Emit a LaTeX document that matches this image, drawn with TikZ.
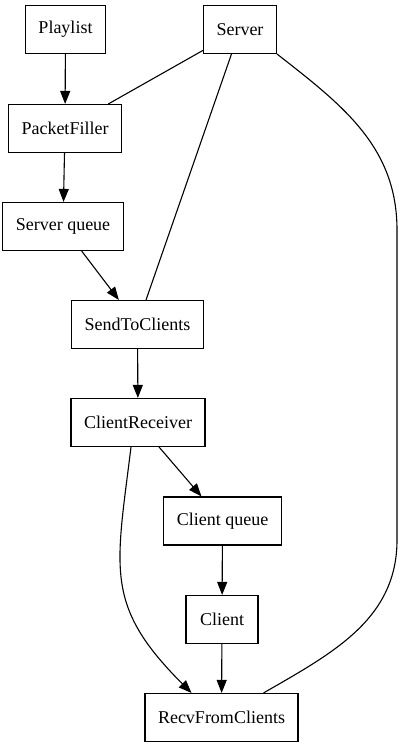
\documentclass[tikz,border=0pt]{standalone}
\usepackage{fontspec}
\setmainfont{Liberation Serif}
\usetikzlibrary{arrows.meta}

\begin{document}
\begin{tikzpicture}[x=1pt, y=1pt,
    box/.style={draw, line width=1.1pt, font=\fontsize{18}{20}\selectfont,
                minimum width=72pt, minimum height=48pt, inner xsep=13pt},
    flow/.style={line width=1.1pt, -{Triangle[length=13pt,width=10pt]}},
    link/.style={line width=1.1pt}]
            \useasboundingbox (0,0) rectangle (401,750);

            \node[box] (playlist) at (65.5, 720.5) {Playlist};
            \node[box] (server) at (240, 720.5) {Server};
            \node[box] (filler) at (65, 621.5) {PacketFiller};
            \node[box] (squeue) at (63, 523.5) {Server queue};
            \node[box] (send) at (137.5, 425.5) {SendToClients};
            \node[box] (crecv) at (138, 327.5) {ClientReceiver};
            \node[box] (cqueue) at (222.5, 229) {Client queue};
            \node[box] (client) at (222, 130.5) {Client};
            \node[box] (recv) at (221.5, 32.5) {RecvFromClients};

            \draw[flow] (playlist) -- (filler);
            \draw[link] (server) -- (filler);
            \draw[link] (server) -- (send);
            \draw[link] (server.south east) to[out=-38, in=90] (397,520) -- (397,210)
                to[out=-90, in=30] ([xshift=-35pt]recv.north east);
            \draw[flow] (filler) -- (squeue);
            \draw[flow] (squeue) -- (send);
            \draw[flow] (send) -- (crecv);
            \draw[flow] (crecv) -- (cqueue);
            \draw[flow] ([xshift=-7pt]crecv.south) to[out=-97, in=135, looseness=1.25] ([xshift=-30pt]recv.north);
            \draw[flow] (cqueue) -- (client);
            \draw[flow] (client) -- (recv);
        \end{tikzpicture}
\end{document}
